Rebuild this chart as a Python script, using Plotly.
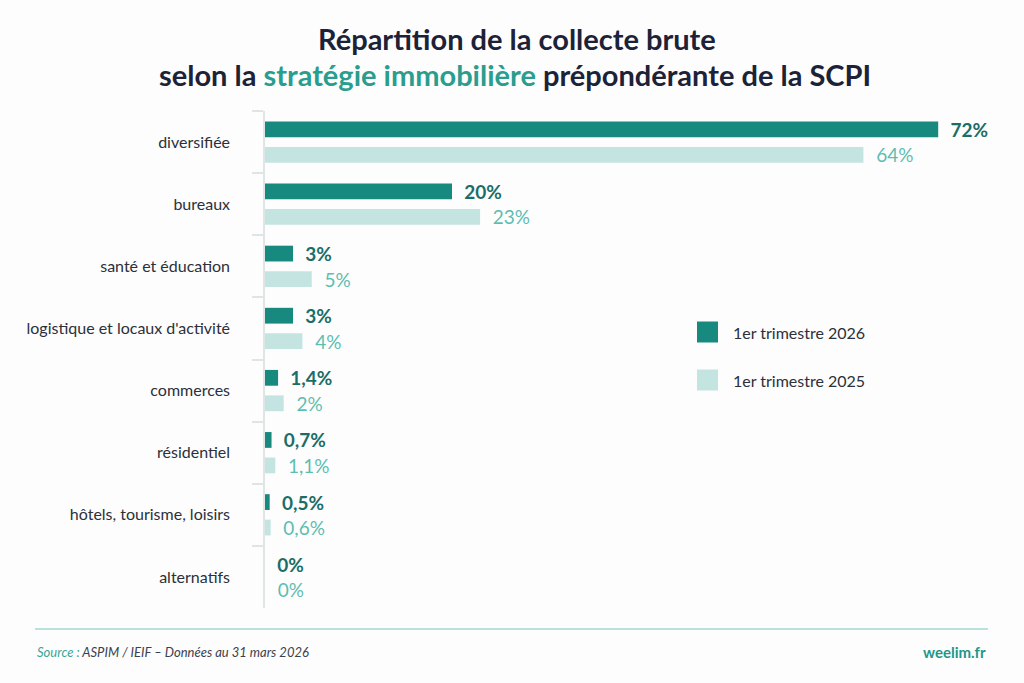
import plotly.graph_objects as go

categories = ["diversifiée", "bureaux", "santé et éducation", "logistique et locaux d'activité",
              "commerces", "résidentiel", "hôtels, tourisme, loisirs", "alternatifs"]
q1_2026 = [72, 20, 3, 3, 1.4, 0.7, 0.5, 0]
q1_2025 = [64, 23, 5, 4, 2, 1.1, 0.6, 0]
series_names = ["1er trimestre 2026", "1er trimestre 2025"]

DARK = "#17897f"
LIGHT = "#c3e4e1"
DARK_TXT = "#1c6d67"
LIGHT_TXT = "#5dbdb1"
NAVY = "#1c2238"
FONT = "Lato"

def fmt(v):
    s = ("%g" % v).replace(".", ",")
    return "  " + s + "%"

fig = go.Figure()
fig.add_trace(go.Bar(
    y=categories, x=q1_2026, orientation="h", name=series_names[0],
    marker=dict(color=DARK, line=dict(width=0)),
    text=[fmt(v) for v in q1_2026], textposition="outside", cliponaxis=False,
    constraintext="none",
    textfont=dict(family=FONT, size=19, color=DARK_TXT, weight="bold"),
    showlegend=False, hoverinfo="skip"))
fig.add_trace(go.Bar(
    y=categories, x=q1_2025, orientation="h", name=series_names[1],
    marker=dict(color=LIGHT, line=dict(width=0)),
    text=[fmt(v) for v in q1_2025], textposition="outside", cliponaxis=False,
    constraintext="none",
    textfont=dict(family=FONT, size=19, color=LIGHT_TXT),
    showlegend=False, hoverinfo="skip"))

T, B, L, R = 111, 75, 265, 11
fig.update_layout(
    width=1024, height=683,
    margin=dict(l=L, r=R, t=T, b=B),
    paper_bgcolor="#fdfdfd", plot_bgcolor="rgba(0,0,0,0)",
    barmode="group", bargap=0.18, bargroupgap=0.38,
    font=dict(family=FONT, color=NAVY),
    xaxis=dict(range=[0, 80], visible=False, fixedrange=True),
    yaxis=dict(categoryorder="array", categoryarray=categories, autorange="reversed",
               showline=True, linecolor="#dfe4e4", linewidth=1.5,
               ticks="outside", tickson="boundaries", ticklen=11, tickcolor="#dfe4e4",
               tickwidth=1.5, ticklabelstandoff=30, showgrid=False,
               tickfont=dict(family=FONT, size=16, color="#2b303b")),
)

W = 1024 - L - R
H = 683 - T - B
def px(xp):
    return (xp - L) / W
def py(yp):
    return 1 - (yp - T) / H

# Title
fig.add_annotation(xref="paper", yref="paper", x=px(517), y=py(38), xanchor="center", yanchor="middle",
                   text="<b>Répartition de la collecte brute</b>", showarrow=False,
                   font=dict(family=FONT, size=29, color=NAVY))
fig.add_annotation(xref="paper", yref="paper", x=px(515), y=py(75), xanchor="center", yanchor="middle",
                   text="<b>selon la <span style='color:#2a9d8f'>stratégie immobilière</span> prépondérante de la SCPI</b>",
                   showarrow=False, font=dict(family=FONT, size=29, color=NAVY))

# Legend (custom)
for (yc, col, name) in [(332, DARK, series_names[0]), (380, LIGHT, series_names[1])]:
    fig.add_shape(type="rect", xref="paper", yref="paper",
                  x0=px(697), x1=px(718), y0=py(yc - 10.5), y1=py(yc + 10.5),
                  fillcolor=col, line=dict(width=0))
    fig.add_annotation(xref="paper", yref="paper", x=px(731), y=py(yc), xanchor="left",
                       yanchor="middle", text=name, showarrow=False,
                       font=dict(family=FONT, size=16, color="#2b303b"))

# Footer
fig.add_shape(type="line", xref="paper", yref="paper", x0=px(35), x1=px(988),
              y0=py(629), y1=py(629), line=dict(color="#a3d8d1", width=1.5))
fig.add_annotation(xref="paper", yref="paper", x=px(35), y=py(652), xanchor="left",
                   yanchor="middle", showarrow=False,
                   text="<i><span style='color:#3aa597'>Source :</span> ASPIM / IEIF – Données au 31 mars 2026</i>",
                   font=dict(family=FONT, size=13, color="#3b4150"))
fig.add_annotation(xref="paper", yref="paper", x=px(988), y=py(652), xanchor="right",
                   yanchor="middle", showarrow=False, text="<b>weelim.fr</b>",
                   font=dict(family=FONT, size=15, color="#21968a"))

fig.write_html("out.html")
